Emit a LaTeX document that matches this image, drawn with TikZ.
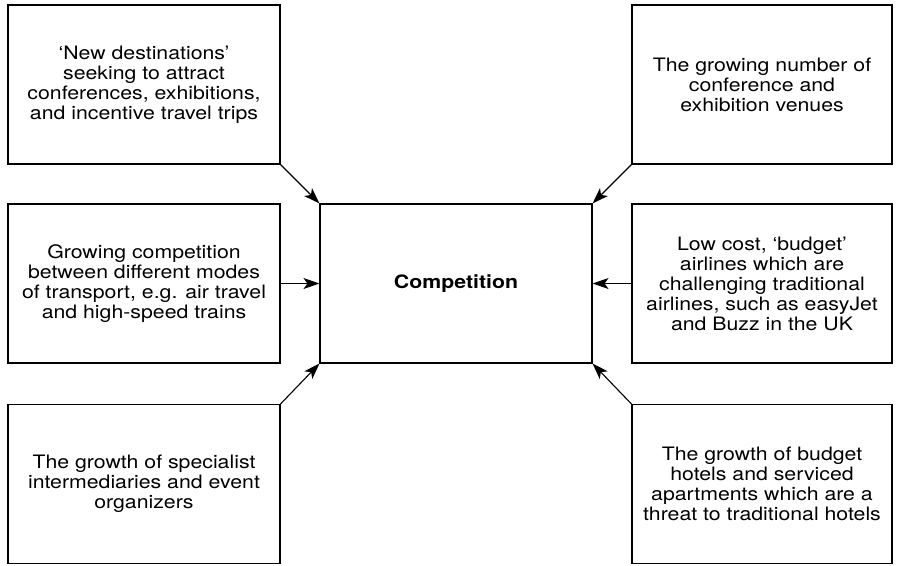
\documentclass[tikz,border=0pt]{standalone}
\usepackage{fontspec}
\setmainfont[FakeStretch=1.15]{TeX Gyre Heros}
\usetikzlibrary{arrows.meta}

\begin{document}
\begin{tikzpicture}[x=1pt,y=-1pt]
% Stile nodi
\tikzstyle{factor} = [
    rectangle,
    draw,
    line width=1.1pt,
    minimum width=272pt,
    minimum height=159pt,
    inner sep=0pt,
    align=center,
    font=\fontsize{18.5}{20}\selectfont
]

\tikzstyle{rfactor} = [
    factor,
    minimum width=260pt
]

\tikzstyle{link} = [
    line width=1.1pt,
    -{Stealth[length=16pt,width=11pt,inset=4pt]}
]

\useasboundingbox (0,0) rectangle (897,565);

% Nodi
\node[factor] (dest) at (144,84.5)
{`New destinations'\\seeking to attract\\conferences, exhibitions,\\and incentive travel trips};

\node[factor] (trans) at (144,283.5)
{Growing competition\\between different modes\\of transport, e.g. air travel\\and high-speed trains};

\node[factor] (inter) at (144,484)
{The growth of specialist\\intermediaries and event\\organizers};

\node[factor] (comp) at (456,283.5)
{\textbf{Competition}};

\node[rfactor] (venues) at (762,84.5)
{The growing number of\\conference and\\exhibition venues};

\node[rfactor] (air) at (762,283.5)
{Low cost, `budget'\\airlines which are\\challenging traditional\\airlines, such as easyJet\\and Buzz in the UK};

\node[rfactor] (hotels) at (762,484)
{The growth of budget\\hotels and serviced\\apartments which are a\\threat to traditional hotels};

% Archi
\draw[link] (dest.south east) -- (comp.north west);

\draw[link] (trans.east) -- (comp.west);

\draw[link] (inter.north east) -- (comp.south west);

\draw[link] (venues.south west) -- (comp.north east);

\draw[link] (air.west) -- (comp.east);

\draw[link] (hotels.north west) -- (comp.south east);

\end{tikzpicture}
\end{document}
